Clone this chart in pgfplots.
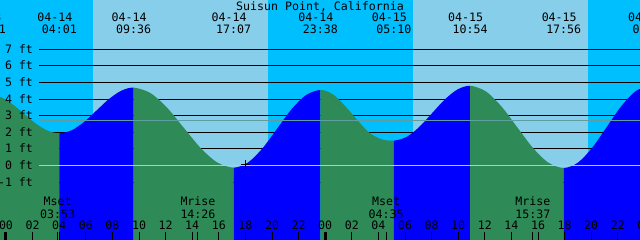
\documentclass[border=0pt]{standalone}
\usepackage{pgfplots}
\pgfplotsset{compat=1.18}
\usepgfplotslibrary{fillbetween}
\usepackage{fontspec}
\setmainfont{DejaVu Sans Mono}
\definecolor{night}{RGB}{0,191,255}
\definecolor{day}{RGB}{135,206,235}
\definecolor{sgreen}{RGB}{46,139,87}
\definecolor{rblue}{RGB}{0,0,255}
\definecolor{mhw}{RGB}{95,158,160}
\definecolor{zline}{RGB}{150,210,245}
\tikzset{fill between/on layer=main}
\begin{document}
\begin{tikzpicture}[font=\fontsize{11.6}{13}\selectfont]
\begin{axis}[at={(0,0)}, anchor=south west, width=640pt, height=240pt, scale only axis,
  xmin=-0.4511, xmax=47.669, ymin=-4.488, ymax=9.970, hide axis, clip=true]
% day / night bands
\addplot[fill=night, draw=none] coordinates {(-1,-5) (6.54,-5) (6.54,11) (-1,11)} -- cycle;
\addplot[fill=day, draw=none] coordinates {(6.54,-5) (19.70,-5) (19.70,11) (6.54,11)} -- cycle;
\addplot[fill=night, draw=none] coordinates {(19.70,-5) (30.60,-5) (30.60,11) (19.70,11)} -- cycle;
\addplot[fill=day, draw=none] coordinates {(30.60,-5) (43.76,-5) (43.76,11) (30.60,11)} -- cycle;
\addplot[fill=night, draw=none] coordinates {(43.76,-5) (49,-5) (49,11) (43.76,11)} -- cycle;
% black level lines
\addplot[black, line width=0.9pt, unbounded coords=jump] coordinates {
(2.48,7) (49,7) (49,nan) (2.48,6) (49,6) (49,nan) (2.48,5) (49,5) (49,nan)
(2.48,4) (49,4) (49,nan) (2.48,3) (49,3) (49,nan) (2.48,2) (49,2) (49,nan)
(2.48,1) (49,1) (49,nan) (2.48,-1) (49,-1)};
% tide curve
\addplot[name path=tide, draw=none, smooth] coordinates {
(-1.32,4.29) (-0.43,4.133) (0.459,3.703) (1.349,3.115) (2.238,2.528) (3.128,2.097) (4.017,1.94)
(4.948,2.124) (5.878,2.628) (6.809,3.315) (7.739,4.003) (8.670,4.506) (9.6,4.69)
(10.853,4.367) (12.106,3.485) (13.358,2.28) (14.611,1.075) (15.864,0.193) (17.117,-0.13)
(18.203,0.184) (19.289,1.04) (20.375,2.21) (21.461,3.38) (22.547,4.236) (23.633,4.55)
(24.555,4.30) (25.478,3.60) (26.400,2.75) (27.322,1.97) (28.245,1.58) (29.167,1.5)
(30.122,1.721) (31.078,2.325) (32.033,3.15) (32.989,3.975) (33.944,4.579) (34.9,4.8)
(36.072,4.468) (37.244,3.5625) (38.417,2.325) (39.589,1.0875) (40.761,0.182) (41.933,-0.15)
(43.014,0.182) (44.095,1.09) (45.177,2.33) (46.258,3.57) (47.339,4.478) (48.42,4.81)};
\addplot[name path=bot, draw=none] coordinates {(-2,-5) (50,-5)};
\addplot[fill=sgreen, draw=none] fill between[of=tide and bot, soft clip={domain=-1.32:4.017}];
\addplot[fill=rblue, draw=none] fill between[of=tide and bot, soft clip={domain=4.017:9.6}];
\addplot[fill=sgreen, draw=none] fill between[of=tide and bot, soft clip={domain=9.6:17.117}];
\addplot[fill=rblue, draw=none] fill between[of=tide and bot, soft clip={domain=17.117:23.633}];
\addplot[fill=sgreen, draw=none] fill between[of=tide and bot, soft clip={domain=23.633:29.167}];
\addplot[fill=rblue, draw=none] fill between[of=tide and bot, soft clip={domain=29.167:34.9}];
\addplot[fill=sgreen, draw=none] fill between[of=tide and bot, soft clip={domain=34.9:41.933}];
\addplot[fill=rblue, draw=none] fill between[of=tide and bot, soft clip={domain=41.933:48.42}];
% reference lines on top
\addplot[mhw, line width=1pt] coordinates {(2.48,2.71) (49,2.71)};
\addplot[zline, line width=1pt] coordinates {(2.48,0) (49,0)};
% hour ticks
\addplot[black, line width=1pt, unbounded coords=jump] coordinates {
(2,-3.988) (2,-4.6) (2,nan) (4,-3.988) (4,-4.6) (4,nan) (6,-3.988) (6,-4.6) (6,nan)
(8,-3.988) (8,-4.6) (8,nan) (10,-3.988) (10,-4.6) (10,nan) (12,-3.988) (12,-4.6) (12,nan)
(14,-3.988) (14,-4.6) (14,nan) (16,-3.988) (16,-4.6) (16,nan) (18,-3.988) (18,-4.6) (18,nan)
(20,-3.988) (20,-4.6) (20,nan) (22,-3.988) (22,-4.6) (22,nan) (26,-3.988) (26,-4.6) (26,nan)
(28,-3.988) (28,-4.6) (28,nan) (30,-3.988) (30,-4.6) (30,nan) (32,-3.988) (32,-4.6) (32,nan)
(34,-3.988) (34,-4.6) (34,nan) (36,-3.988) (36,-4.6) (36,nan) (38,-3.988) (38,-4.6) (38,nan)
(40,-3.988) (40,-4.6) (40,nan) (42,-3.988) (42,-4.6) (42,nan) (44,-3.988) (44,-4.6) (44,nan)
(46,-3.988) (46,-4.6) (46,nan)
(3.883,-3.988) (3.883,-4.6) (3.883,nan) (14.433,-3.988) (14.433,-4.6) (14.433,nan)
(28.583,-3.988) (28.583,-4.6) (28.583,nan) (39.617,-3.988) (39.617,-4.6)};
\addplot[black, line width=3pt, unbounded coords=jump] coordinates {
(0,-3.988) (0,-4.6) (0,nan) (24,-3.988) (24,-4.6)};
% current time marker
\addplot[black, only marks, mark=+, mark size=4.5pt, line width=1pt] coordinates {(17.97,0.05)};
% y labels
\node[anchor=base east] at (axis cs:2.293,6.759) {7 ft};
\node[anchor=base east] at (axis cs:2.293,5.759) {6 ft};
\node[anchor=base east] at (axis cs:2.293,4.759) {5 ft};
\node[anchor=base east] at (axis cs:2.293,3.759) {4 ft};
\node[anchor=base east] at (axis cs:2.293,2.759) {3 ft};
\node[anchor=base east] at (axis cs:2.293,1.759) {2 ft};
\node[anchor=base east] at (axis cs:2.293,0.759) {1 ft};
\node[anchor=base east] at (axis cs:2.293,-0.241) {0 ft};
\node[anchor=base east] at (axis cs:2.293,-1.241) {-1 ft};
% title
\node[anchor=base] at (axis cs:23.61,9.349) {Suisun Point, California};
% extremes
\node[anchor=base] at (axis cs:-1.658,8.663) {04-13};
\node[anchor=base] at (axis cs:-1.32,7.922) {22:41};
\node[anchor=base] at (axis cs:3.679,8.663) {04-14};
\node[anchor=base] at (axis cs:4.017,7.922) {04:01};
\node[anchor=base] at (axis cs:9.262,8.663) {04-14};
\node[anchor=base] at (axis cs:9.6,7.922) {09:36};
\node[anchor=base] at (axis cs:16.779,8.663) {04-14};
\node[anchor=base] at (axis cs:17.117,7.922) {17:07};
\node[anchor=base] at (axis cs:23.295,8.663) {04-14};
\node[anchor=base] at (axis cs:23.633,7.922) {23:38};
\node[anchor=base] at (axis cs:28.829,8.663) {04-15};
\node[anchor=base] at (axis cs:29.167,7.922) {05:10};
\node[anchor=base] at (axis cs:34.562,8.663) {04-15};
\node[anchor=base] at (axis cs:34.9,7.922) {10:54};
\node[anchor=base] at (axis cs:41.595,8.663) {04-15};
\node[anchor=base] at (axis cs:41.933,7.922) {17:56};
\node[anchor=base] at (axis cs:48.082,8.663) {04-16};
\node[anchor=base] at (axis cs:48.42,7.922) {00:25};
% moon
\node[anchor=base] at (axis cs:3.883,-2.440) {Mset};
\node[anchor=base] at (axis cs:3.883,-3.181) {03:53};
\node[anchor=base] at (axis cs:14.433,-2.440) {Mrise};
\node[anchor=base] at (axis cs:14.433,-3.181) {14:26};
\node[anchor=base] at (axis cs:28.583,-2.440) {Mset};
\node[anchor=base] at (axis cs:28.583,-3.181) {04:35};
\node[anchor=base] at (axis cs:39.617,-2.440) {Mrise};
\node[anchor=base] at (axis cs:39.617,-3.181) {15:37};
% hour labels
\node[anchor=base] at (axis cs:0,-3.843) {00};
\node[anchor=base] at (axis cs:2,-3.843) {02};
\node[anchor=base] at (axis cs:4,-3.843) {04};
\node[anchor=base] at (axis cs:6,-3.843) {06};
\node[anchor=base] at (axis cs:8,-3.843) {08};
\node[anchor=base] at (axis cs:10,-3.843) {10};
\node[anchor=base] at (axis cs:12,-3.843) {12};
\node[anchor=base] at (axis cs:14,-3.843) {14};
\node[anchor=base] at (axis cs:16,-3.843) {16};
\node[anchor=base] at (axis cs:18,-3.843) {18};
\node[anchor=base] at (axis cs:20,-3.843) {20};
\node[anchor=base] at (axis cs:22,-3.843) {22};
\node[anchor=base] at (axis cs:24,-3.843) {00};
\node[anchor=base] at (axis cs:26,-3.843) {02};
\node[anchor=base] at (axis cs:28,-3.843) {04};
\node[anchor=base] at (axis cs:30,-3.843) {06};
\node[anchor=base] at (axis cs:32,-3.843) {08};
\node[anchor=base] at (axis cs:34,-3.843) {10};
\node[anchor=base] at (axis cs:36,-3.843) {12};
\node[anchor=base] at (axis cs:38,-3.843) {14};
\node[anchor=base] at (axis cs:40,-3.843) {16};
\node[anchor=base] at (axis cs:42,-3.843) {18};
\node[anchor=base] at (axis cs:44,-3.843) {20};
\node[anchor=base] at (axis cs:46,-3.843) {22};
\node[anchor=base] at (axis cs:48,-3.843) {00};
\end{axis}
\pgfresetboundingbox
\useasboundingbox (0,0) rectangle (640pt,240pt);
\end{tikzpicture}
\end{document}
